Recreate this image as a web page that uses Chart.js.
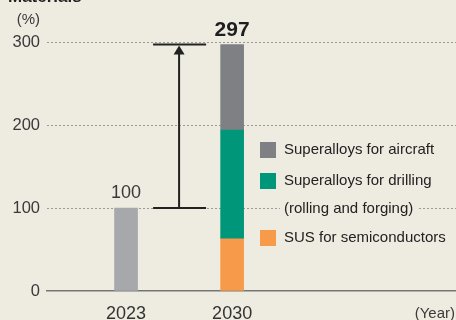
<!DOCTYPE html>
<html>
<head>
<meta charset="utf-8">
<script src="https://cdn.jsdelivr.net/npm/chart.js@4"></script>
<style>
  html, body { margin: 0; padding: 0; background: #EEEBE1; }
  #wrap { width: 456px; height: 320px; position: relative; }
</style>
</head>
<body>
<div id="wrap"><canvas id="chart" width="456" height="320"></canvas></div>
<script>
const years = ["2023", "2030"];
const base2023 = [100, null];
const sus = [null, 63];
const drilling = [null, 131];
const aircraft = [null, 103];
const yTicks = [0, 100, 200, 300];

const BG = "#EEEBE1";
const FONT = "'Liberation Sans', Arial, sans-serif";

// {x, y} points for the linear index axis, skipping empty slots
function pts(arr) {
  const out = [];
  arr.forEach((v, i) => { if (v !== null) out.push({ x: i, y: v }); });
  return out;
}

const totals = years.map((_, i) =>
  [base2023, sus, drilling, aircraft].reduce((s, a) => s + (a[i] || 0), 0));

// text, arrow and legend drawn on top of the bars
const extras = {
  id: "extras",
  afterDatasetsDraw(chart) {
    const ctx = chart.ctx;
    const xs = chart.scales.x, ys = chart.scales.y;
    ctx.save();

    // cut-off title and unit labels
    ctx.fillStyle = "#222";
    ctx.font = "bold 17px " + FONT;
    ctx.textAlign = "left";
    ctx.textBaseline = "alphabetic";
    ctx.fillText("Materials", 8, 2);

    ctx.fillStyle = "#3a3a3a";
    ctx.font = "15px " + FONT;
    ctx.textAlign = "right";
    ctx.textBaseline = "middle";
    ctx.fillText("(%)", 40, 20);
    ctx.fillText("(Year)", 455, 314);

    // totals above bars
    ctx.textAlign = "center";
    ctx.textBaseline = "alphabetic";
    ctx.fillStyle = "#3a3a3a";
    ctx.font = "18px " + FONT;
    ctx.fillText(String(totals[0]), xs.getPixelForValue(0), ys.getPixelForValue(totals[0]) - 10);
    ctx.fillStyle = "#1e1e1e";
    ctx.font = "bold 21px " + FONT;
    ctx.fillText(String(totals[1]), xs.getPixelForValue(1), ys.getPixelForValue(totals[1]) - 8);

    // growth arrow between the two totals
    const ax = xs.getPixelForValue(0.5);
    const yLo = ys.getPixelForValue(totals[0]);
    const yHi = ys.getPixelForValue(totals[1]);
    ctx.strokeStyle = "#222";
    ctx.fillStyle = "#222";
    ctx.lineWidth = 2;
    ctx.beginPath();
    ctx.moveTo(ax - 26, yLo); ctx.lineTo(ax + 27, yLo);
    ctx.moveTo(ax - 26, yHi); ctx.lineTo(ax + 27, yHi);
    ctx.moveTo(ax, yLo); ctx.lineTo(ax, yHi + 8);
    ctx.stroke();
    ctx.beginPath();
    ctx.moveTo(ax, yHi + 1);
    ctx.lineTo(ax - 5.5, yHi + 10);
    ctx.lineTo(ax + 5.5, yHi + 10);
    ctx.closePath();
    ctx.fill();

    // legend, top item = top of stack
    const items = chart.data.datasets.filter(d => d.legend).reverse();
    const rowTops = [142, 173, 230];
    ctx.font = "15px " + FONT;
    ctx.textAlign = "left";
    ctx.textBaseline = "middle";
    items.forEach((d, k) => {
      const top = rowTops[k];
      ctx.fillStyle = d.backgroundColor;
      ctx.fillRect(260, top, 16, 16);
      d.legend.forEach((line, j) => {
        const ty = top + 8 + j * 28;
        const w = ctx.measureText(line).width;
        ctx.fillStyle = BG;
        ctx.fillRect(280, ty - 9, w + 8, 18);
        ctx.fillStyle = "#222";
        ctx.fillText(line, 284, ty);
      });
    });
    ctx.restore();
  }
};

new Chart(document.getElementById("chart"), {
  type: "bar",
  data: {
    datasets: [
      { data: pts(base2023), backgroundColor: "#A7A8AB" },
      { data: pts(sus), backgroundColor: "#F79A4A", legend: ["SUS for semiconductors"] },
      { data: pts(drilling), backgroundColor: "#00967A", legend: ["Superalloys for drilling", "(rolling and forging)"] },
      { data: pts(aircraft), backgroundColor: "#7F8083", legend: ["Superalloys for aircraft"] }
    ]
  },
  options: {
    responsive: false,
    animation: false,
    layout: { padding: { top: 42, right: 0, left: 0, bottom: 0 } },
    datasets: { bar: { barThickness: 23, borderWidth: 0 } },
    plugins: { legend: { display: false }, tooltip: { enabled: false } },
    scales: {
      x: {
        type: "linear",
        stacked: true,
        offset: false,
        bounds: "data",
        min: -0.745,
        max: 3.11,
        afterBuildTicks: s => { s.ticks = years.map((_, i) => ({ value: i })); },
        afterFit: s => { s.height = 29; },
        grid: { display: false, drawTicks: false, offset: false },
        border: { display: true, color: "#767676", width: 1.5 },
        ticks: {
          callback: v => years[v],
          color: "#333",
          font: { family: FONT, size: 18 },
          padding: 12,
          maxRotation: 0
        }
      },
      y: {
        stacked: true,
        min: 0,
        max: 300,
        afterBuildTicks: s => { s.ticks = yTicks.map(v => ({ value: v })); },
        afterFit: s => { s.width = 47; },
        grid: {
          drawTicks: false,
          color: ctx => ctx.tick.value === 0 ? "rgba(0,0,0,0)" : "#9a9a9a",
          lineWidth: 1
        },
        border: { display: false, dash: [2, 2] },
        ticks: {
          color: "#3a3a3a",
          font: { family: FONT, size: 16.5 },
          padding: 7
        }
      }
    }
  },
  plugins: [extras]
});
</script>
</body>
</html>
